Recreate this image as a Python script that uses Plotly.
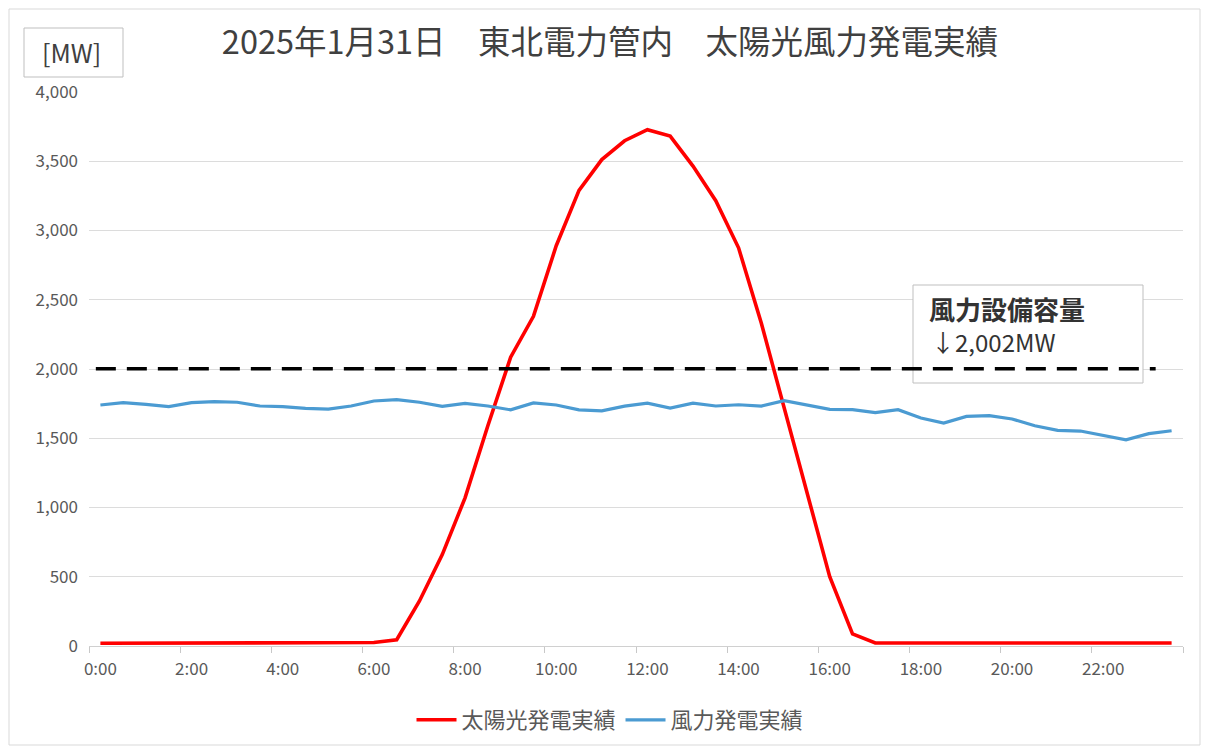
import plotly.graph_objects as go

# ---- data (30-minute values, 0:00 .. 23:30) ----
time_hours = [i * 0.5 for i in range(48)]
solar_mw = [20, 20, 20, 20, 20, 20, 20, 20, 20, 20, 20, 20,
            25, 45, 325, 660, 1070, 1590, 2085, 2380, 2890, 3290, 3512, 3648,
            3728, 3682, 3465, 3215, 2875, 2330, 1720, 1120, 500, 88, 22, 22,
            22, 22, 22, 22, 22, 22, 22, 22, 22, 22, 22, 22]
wind_mw = [1740, 1757, 1745, 1728, 1757, 1764, 1760, 1733, 1728, 1716, 1711, 1733,
           1769, 1779, 1760, 1730, 1752, 1733, 1705, 1755, 1740, 1705, 1698, 1732,
           1753, 1718, 1754, 1733, 1742, 1732, 1772, 1738, 1708, 1707, 1685, 1706,
           1646, 1610, 1658, 1663, 1639, 1590, 1557, 1552, 1523, 1489, 1533, 1554]
capacity_mw = 2002
tick_hours = [0, 2, 4, 6, 8, 10, 12, 14, 16, 18, 20, 22]
tick_labels = ["0:00", "2:00", "4:00", "6:00", "8:00", "10:00", "12:00",
               "14:00", "16:00", "18:00", "20:00", "22:00"]
series_names = ["太陽光発電実績", "風力発電実績"]
title_text = "2025年1月31日　東北電力管内　太陽光風力発電実績"

FONT = "Noto Sans CJK JP"
GRAY = "#595959"

fig = go.Figure()
fig.add_trace(go.Scatter(x=time_hours, y=solar_mw, mode="lines", name=series_names[0],
                         line=dict(color="#FF0000", width=3.6)))
fig.add_trace(go.Scatter(x=time_hours, y=wind_mw, mode="lines", name=series_names[1],
                         line=dict(color="#4B9BD2", width=3.2)))

# page has an 8px body margin; work in page pixels and convert
OFF = 8
W, H = 1210 - 2 * OFF, 755 - 2 * OFF
PL, PR, PT, PB = 89, 1183, 92, 646  # plot area in page pixels
L, T = PL - OFF, PT - OFF
R, B = W - (PR - OFF), H - (PB - OFF)
pw, ph = PR - PL, PB - PT


def px(x):
    return (x - PL) / pw


def py(y):
    return (PB - y) / ph


def cy(y):
    return 1 - (y - OFF) / H


def cx(x):
    return (x - OFF) / W


shapes = [
    # outer frame
    dict(type="rect", xref="paper", yref="paper", x0=px(9), x1=px(1200), y0=py(745), y1=py(9),
         line=dict(color="#d9d9d9", width=1), fillcolor="rgba(0,0,0,0)", layer="below"),
    # unit box
    dict(type="rect", xref="paper", yref="paper", x0=px(24), x1=px(123), y0=py(77), y1=py(28),
         line=dict(color="#bfbfbf", width=1), fillcolor="white", layer="above"),
    # capacity note box
    dict(type="rect", xref="paper", yref="paper", x0=px(913), x1=px(1143), y0=py(383), y1=py(285),
         line=dict(color="#bfbfbf", width=1), fillcolor="white", layer="above"),
    # capacity dashed line
    dict(type="line", xref="x", yref="y", x0=-0.1, x1=23.15, y0=capacity_mw, y1=capacity_mw,
         line=dict(color="#000000", width=3.5, dash="20px,11px"), layer="above"),
]

annotations = [
    dict(text="[MW]", xref="paper", yref="paper", x=px(71), y=py(52), showarrow=False,
         font=dict(family=FONT, size=25, color="#404040"), xanchor="center", yanchor="middle"),
    dict(text="<b>風力設備容量</b>", xref="paper", yref="paper", x=px(927), y=py(308),
         showarrow=False, font=dict(family=FONT, size=26, color="#333333"),
         xanchor="left", yanchor="middle"),
    dict(text=f"↓{capacity_mw:,}MW", xref="paper", yref="paper", x=px(929), y=py(341),
         showarrow=False, font=dict(family=FONT, size=24, color="#333333"),
         xanchor="left", yanchor="middle"),
]

fig.update_layout(
    width=W, height=H,
    margin=dict(l=L, r=R, t=T, b=B),
    paper_bgcolor="white", plot_bgcolor="white",
    font=dict(family=FONT, color=GRAY),
    title=dict(text=title_text, x=cx(610), xanchor="center", y=cy(43), yanchor="middle",
               font=dict(family=FONT, size=32.5, color="#404040")),
    xaxis=dict(range=[-0.25, 23.75], tickmode="array", tickvals=tick_hours, ticktext=tick_labels,
               showgrid=False, zeroline=False, showline=True, linecolor="#d0d0d0", linewidth=1,
               ticks="", tickfont=dict(family=FONT, size=17, color=GRAY), ticklabelstandoff=8,
               minor=dict(tick0=-0.25, dtick=2, ticks="outside", ticklen=6, tickcolor="#c8c8c8",
                          showgrid=False),
               fixedrange=True),
    yaxis=dict(range=[0, 4000], dtick=500, tickformat=",", showgrid=True, gridcolor="#dcdcdc",
               gridwidth=1, zeroline=False, showline=False, ticks="",
               tickfont=dict(family=FONT, size=17, color=GRAY), ticklabelstandoff=10,
               fixedrange=True),
    legend=dict(orientation="h", xref="container", x=cx(610), xanchor="center",
                yref="container", y=cy(720), yanchor="middle",
                font=dict(family=FONT, size=22, color=GRAY), itemwidth=40,
                bgcolor="rgba(0,0,0,0)"),
    shapes=shapes,
    annotations=annotations,
    showlegend=True,
)

fig.write_html("out.html")
